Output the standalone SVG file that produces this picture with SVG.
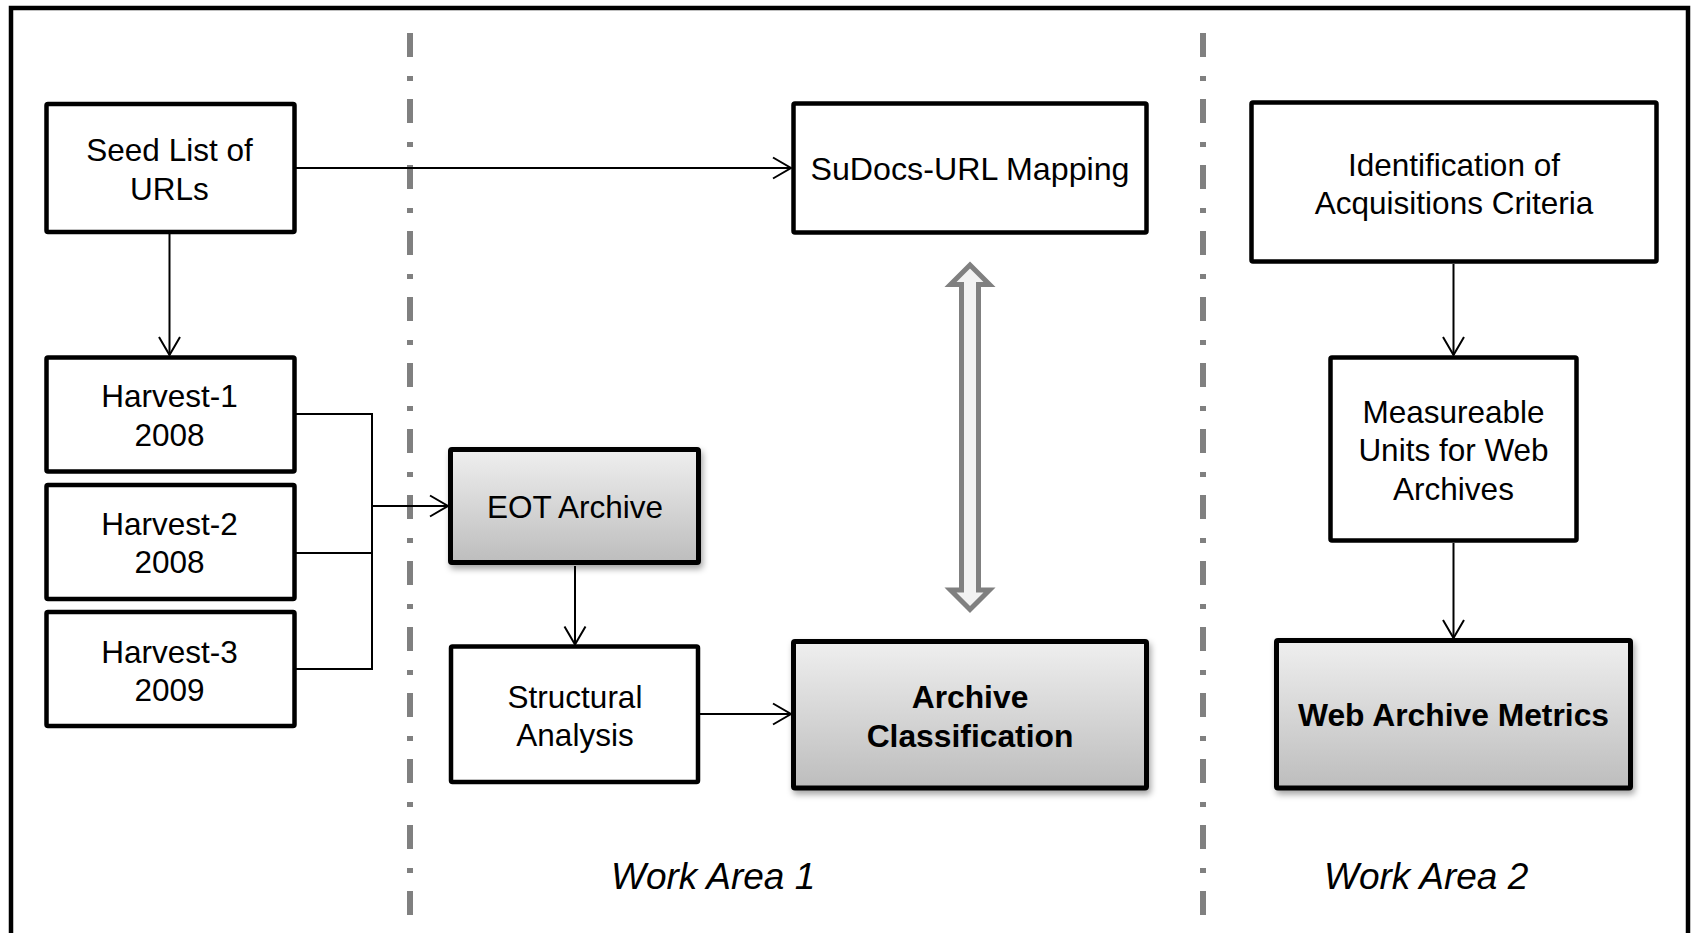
<svg xmlns="http://www.w3.org/2000/svg" width="1693" height="933" viewBox="0 0 1693 933">
<defs>
<style>
.box{fill:#fff;stroke:#000;stroke-width:4.5}
.shade{fill:url(#g);stroke:#000;stroke-width:5;filter:url(#sh)}
.t{font-family:"Liberation Sans",Arial,sans-serif;font-size:31.5px;fill:#000;text-anchor:middle}
.b{font-weight:bold;font-size:31.8px}
.wa{font-family:"Liberation Sans",Arial,sans-serif;font-size:37px;font-style:italic;fill:#000}
.c{fill:none;stroke:#000;stroke-width:2}
.a{marker-end:url(#ar)}
.dash{stroke:#808080;stroke-width:6;stroke-dasharray:24 19 5 18}
</style>
<linearGradient id="g" x1="0" y1="0" x2="0" y2="1">
<stop offset="0" stop-color="#efefef"/>
<stop offset="1" stop-color="#bdbdbd"/>
</linearGradient>
<filter id="sh" x="-10%" y="-10%" width="120%" height="130%">
<feDropShadow dx="2" dy="4" stdDeviation="3" flood-color="#000" flood-opacity="0.35"/>
</filter>
<marker id="ar" markerUnits="userSpaceOnUse" markerWidth="24" markerHeight="26" refX="19" refY="12" orient="auto">
<path d="M1,1.5 L19,12 L1,22.5" fill="none" stroke="#000" stroke-width="2"/>
</marker>
</defs>
<rect x="0" y="0" width="1693" height="933" fill="#fff"/>
<rect x="11" y="8" width="1677" height="1000" fill="none" stroke="#000" stroke-width="4.5"/>
<g id="dividers">
<line class="dash" x1="410" y1="33" x2="410" y2="916"/>
<line class="dash" x1="1203" y1="33" x2="1203" y2="916"/>
</g>
<g id="connectors">
<line class="c a" x1="295" y1="168" x2="791" y2="168"/>
<line class="c a" x1="169.5" y1="232" x2="169.5" y2="355"/>
<polyline class="c" points="295,414 372,414 372,669 295,669"/>
<line class="c" x1="295" y1="553" x2="372" y2="553"/>
<line class="c a" x1="372" y1="506" x2="448" y2="506"/>
<line class="c a" x1="575" y1="566" x2="575" y2="644.5"/>
<line class="c a" x1="700" y1="714" x2="791" y2="714"/>
<line class="c a" x1="1453.5" y1="264" x2="1453.5" y2="355"/>
<line class="c a" x1="1453.5" y1="543" x2="1453.5" y2="638"/>
<polygon id="double-arrow" points="970,265 989.5,284.5 978.5,284.5 978.5,590 989.5,590 970,609.5 950.5,590 961.5,590 961.5,284.5 950.5,284.5" fill="#f2f2f2" stroke="#808080" stroke-width="5"/>
</g>
<g id="seed">
<rect class="box" x="46.5" y="104" width="248" height="128" rx="1.5"/>
<text class="t" x="169.5" y="161">Seed List of</text>
<text class="t" x="169.5" y="199.5">URLs</text>
</g>
<g id="harvest1">
<rect class="box" x="46.5" y="357.5" width="248" height="114" rx="1.5"/>
<text class="t" x="169.5" y="407">Harvest-1</text>
<text class="t" x="169.5" y="446">2008</text>
</g>
<g id="harvest2">
<rect class="box" x="46.5" y="485" width="248" height="114" rx="1.5"/>
<text class="t" x="169.5" y="535">Harvest-2</text>
<text class="t" x="169.5" y="573">2008</text>
</g>
<g id="harvest3">
<rect class="box" x="46.5" y="612" width="248" height="114" rx="1.5"/>
<text class="t" x="169.5" y="662.5">Harvest-3</text>
<text class="t" x="169.5" y="701">2009</text>
</g>
<g id="sudocs">
<rect class="box" x="793.5" y="103.5" width="353" height="129" rx="1.5"/>
<text class="t" x="970" y="180" style="font-size:32.2px">SuDocs-URL Mapping</text>
</g>
<g id="eot">
<rect class="shade" x="450.5" y="449.5" width="248" height="113" rx="1.5"/>
<text class="t" x="575" y="518">EOT Archive</text>
</g>
<g id="structural">
<rect class="box" x="451" y="646.5" width="247" height="135.5" rx="1.5"/>
<text class="t" x="575" y="707.5">Structural</text>
<text class="t" x="575" y="746">Analysis</text>
</g>
<g id="archive-classification">
<rect class="shade" x="793.5" y="641.5" width="353" height="146.5" rx="1.5"/>
<text class="t b" x="970" y="708">Archive</text>
<text class="t b" x="970" y="746.5">Classification</text>
</g>
<g id="identification">
<rect class="box" x="1251.5" y="102.5" width="405" height="159" rx="1.5"/>
<text class="t" x="1454" y="175.5">Identification of</text>
<text class="t" x="1454" y="213.5">Acquisitions Criteria</text>
</g>
<g id="measureable">
<rect class="box" x="1330.5" y="357.5" width="246" height="183" rx="1.5"/>
<text class="t" x="1453.5" y="422.5">Measureable</text>
<text class="t" x="1453.5" y="461">Units for Web</text>
<text class="t" x="1453.5" y="499.5">Archives</text>
</g>
<g id="web-archive-metrics">
<rect class="shade" x="1276.5" y="640.5" width="354" height="147.5" rx="1.5"/>
<text class="t b" x="1453.5" y="726">Web Archive Metrics</text>
</g>
<g id="labels">
<text class="wa" x="611" y="889">Work Area 1</text>
<text class="wa" x="1324" y="889">Work Area 2</text>
</g>
</svg>
